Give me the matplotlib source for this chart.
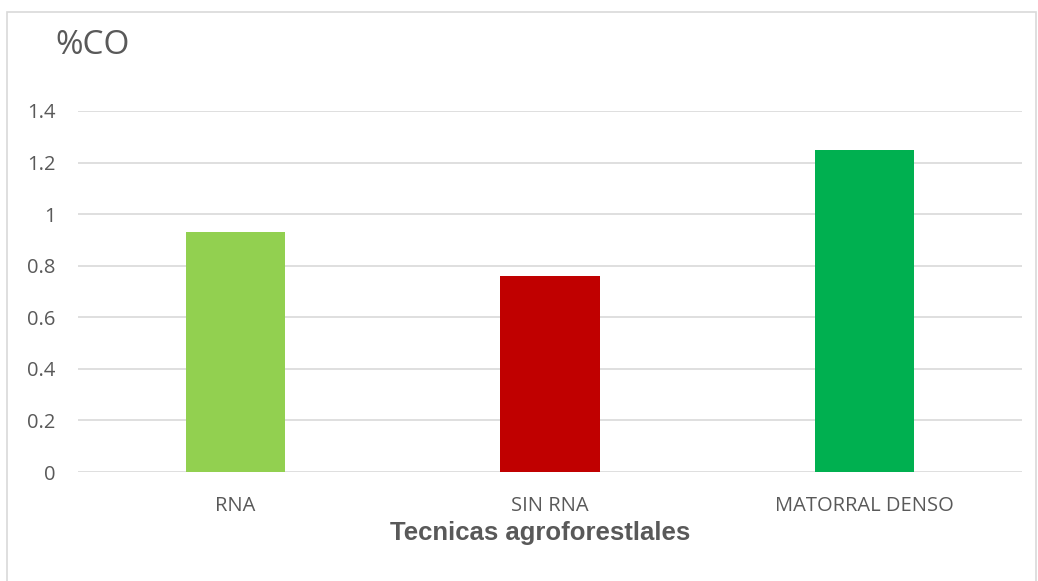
import matplotlib
matplotlib.use("Agg")
import matplotlib.pyplot as plt
from matplotlib.patches import Rectangle

categories = ["RNA", "SIN RNA", "MATORRAL DENSO"]
values = [0.93, 0.76, 1.25]
colors = ["#92D050", "#C00000", "#00B050"]
yticks = [0, 0.2, 0.4, 0.6, 0.8, 1.0, 1.2, 1.4]
ytick_labels = ["0", "0.2", "0.4", "0.6", "0.8", "1", "1.2", "1.4"]

W, H = 1038, 581
fig = plt.figure(figsize=(W / 100, H / 100), dpi=100)
fig.patch.set_facecolor("white")

# outer chart border
fig.add_artist(Rectangle((7 / W, -0.05), (1036 - 7) / W, (H - 12) / H + 0.05,
                         transform=fig.transFigure, fill=False,
                         edgecolor="#D9D9D9", linewidth=1.2))

left, right, top, bottom = 78, 1022, 111, 472
ax = fig.add_axes([left / W, 1 - bottom / H, (right - left) / W, (bottom - top) / H])
x = list(range(len(categories)))
ax.bar(x, values, width=0.315, color=colors, zorder=3)
ax.set_xlim(-0.5, len(categories) - 0.5)
ax.set_ylim(0, 1.4)
ax.set_yticks(yticks)
ax.set_yticklabels(ytick_labels)
ax.set_xticks(x)
ax.set_xticklabels(categories)
ax.grid(axis="y", color="#D9D9D9", linewidth=1.2, zorder=0)
for s in ax.spines.values():
    s.set_visible(False)
ax.tick_params(axis="both", length=0, colors="#595959", labelsize=14.5)
ax.tick_params(axis="y", pad=16)
ax.tick_params(axis="x", pad=17)
for lab in ax.get_xticklabels() + ax.get_yticklabels():
    lab.set_fontfamily("Open Sans")
    lab.set_color("#595959")

fig.text(55 / W, 1 - 45 / H, "%CO", fontsize=24, color="#595959",
         family="Open Sans", ha="left", va="center")
fig.text(540 / W, 1 - 533 / H, "Tecnicas agroforestlales", fontsize=18.5,
         fontweight="bold", color="#595959", family="Liberation Sans",
         ha="center", va="center")

fig.savefig("out.png", dpi=100, facecolor="white")
